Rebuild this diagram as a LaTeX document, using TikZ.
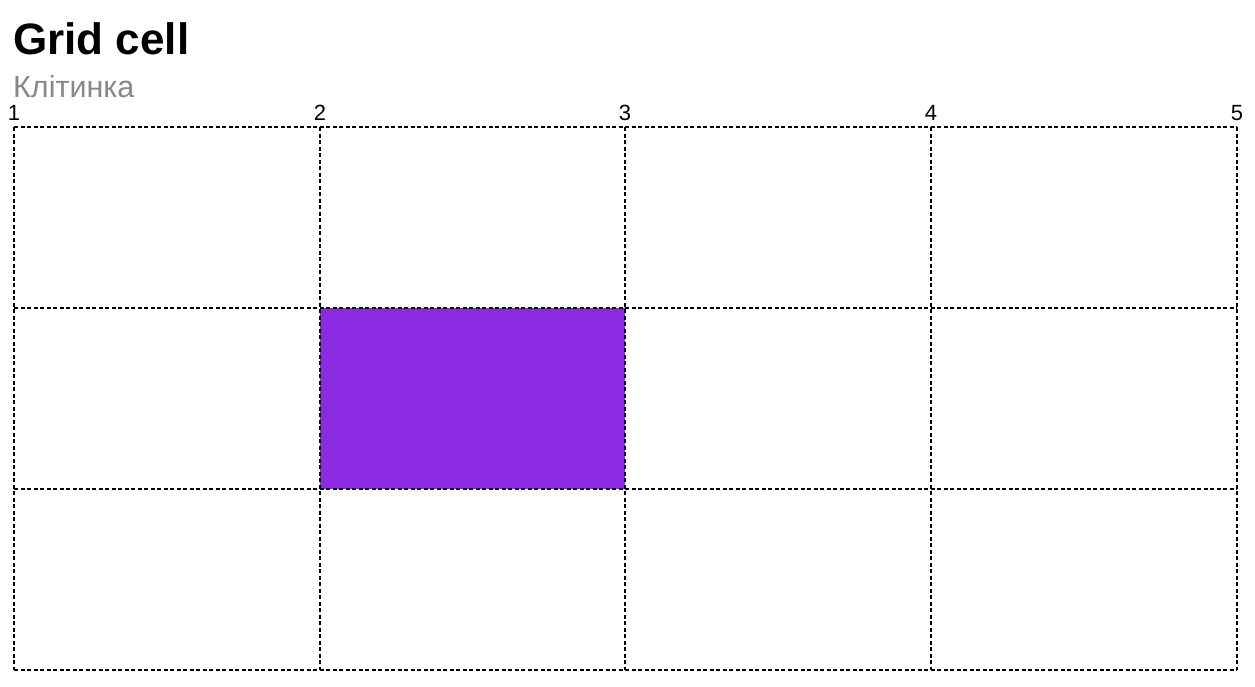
\documentclass[tikz,border=0pt]{standalone}
\usepackage{fontspec}
\setmainfont{Liberation Sans}
\definecolor{cellfill}{HTML}{8A2BE2}
\definecolor{subgray}{HTML}{888888}
\begin{document}
\begin{tikzpicture}[
  x=1pt, y=-1pt,
  gridline/.style={line width=1.9pt, dash pattern=on 4pt off 2.5pt},
  linenum/.style={above, inner sep=0pt, font=\fontsize{22}{22}\selectfont}
]
\useasboundingbox (0,0) rectangle (1255,686);
\fill[cellfill] (320,308) rectangle (625,489);
\foreach \i/\x in {1/14,2/320,3/625,4/931,5/1237} {
  \draw[gridline] (\x,127) -- (\x,670);
  \node[linenum] (num\i) at (\x,121) {\i};
}
\foreach \y in {127,308,489,670}
  \draw[gridline] (14,\y) -- (1237,\y);
\node[anchor=base west, inner sep=0pt, font=\fontsize{44}{44}\selectfont\bfseries] (title) at (13,54) {Grid cell};
\node[anchor=base west, inner sep=0pt, text=subgray, font=\fontsize{30.5}{30.5}\selectfont] (subtitle) at (13,97) {Клітинка};
\end{tikzpicture}
\end{document}
